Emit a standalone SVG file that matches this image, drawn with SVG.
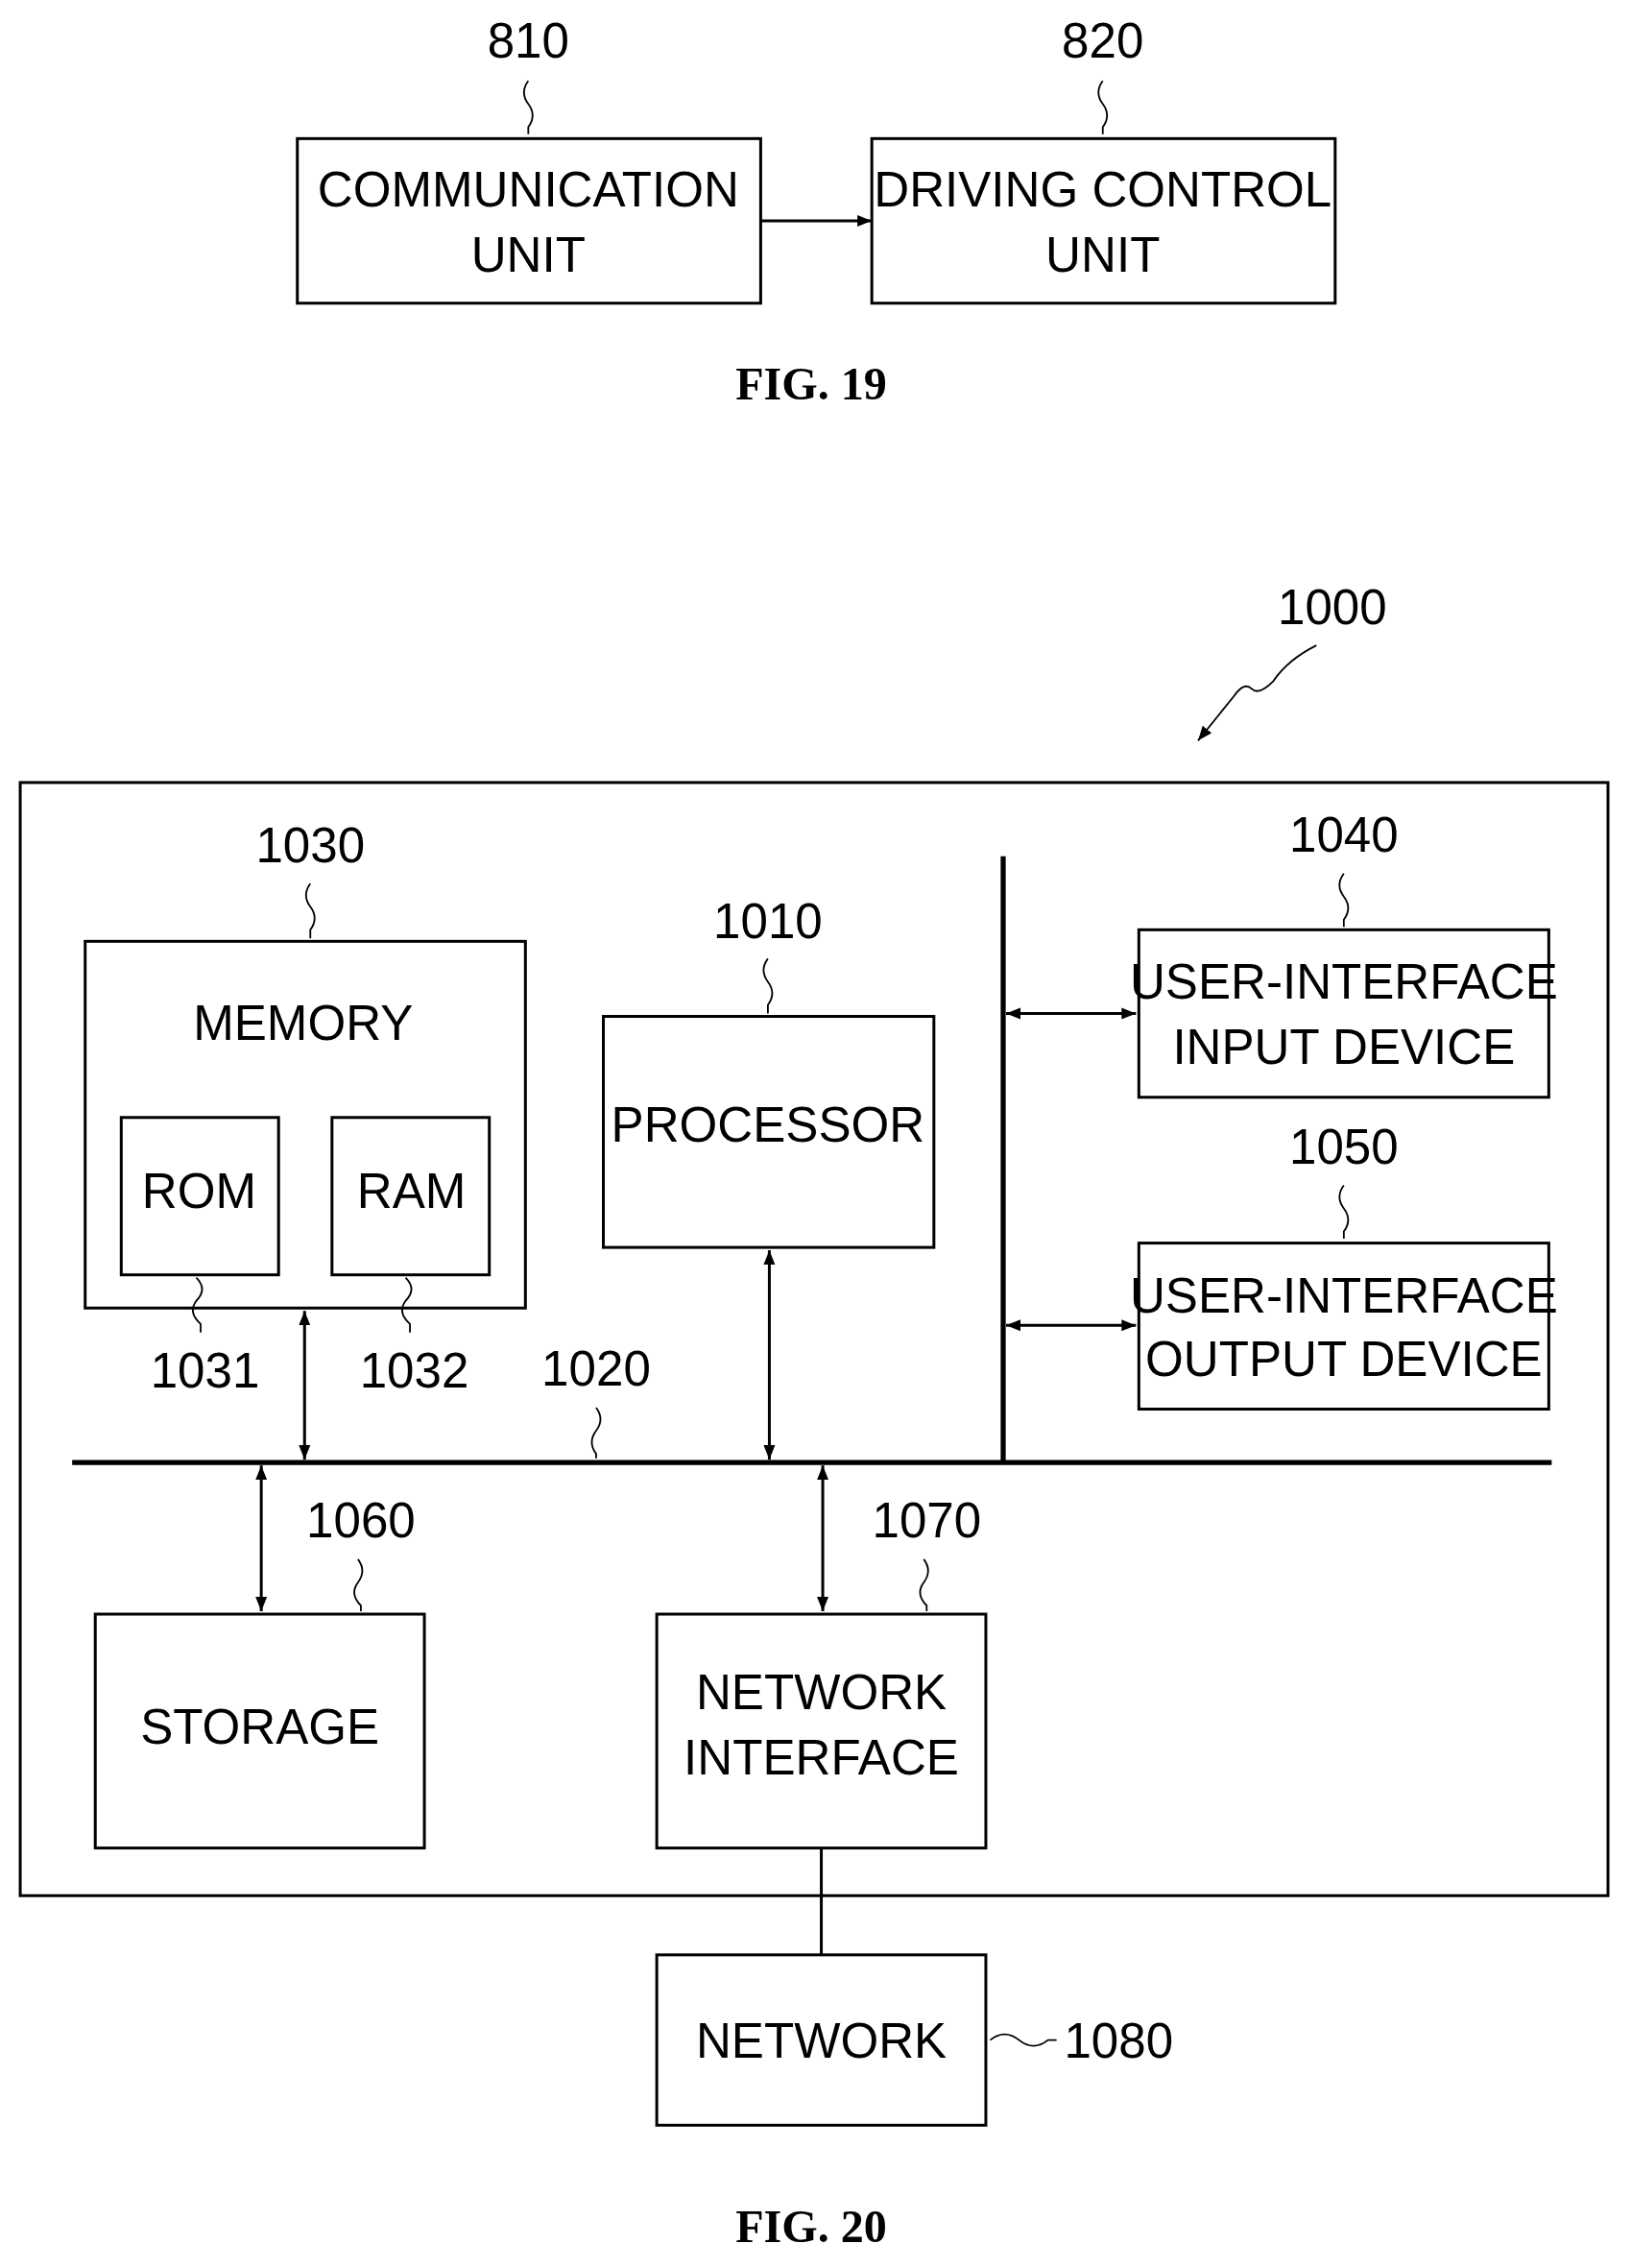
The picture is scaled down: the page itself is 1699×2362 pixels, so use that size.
<svg xmlns="http://www.w3.org/2000/svg" width="1699" height="2362" viewBox="0 0 1699 2362">
<defs>
<marker id="ah" viewBox="0 0 10 10" refX="10" refY="5" markerWidth="10" markerHeight="10" markerUnits="userSpaceOnUse" orient="auto-start-reverse"><path d="M0,1 L10,5 L0,9 z" fill="#000"/></marker>
<style>
.b{fill:#fff;stroke:#000;stroke-width:2}
.t{font-family:"Liberation Sans",Arial,sans-serif;font-size:34px;text-anchor:middle}
.n{font-family:"Liberation Sans",Arial,sans-serif;font-size:34px;text-anchor:middle}
.f{font-family:"Liberation Serif",serif;font-size:32px;font-weight:bold;text-anchor:middle}
.l{fill:none;stroke:#000;stroke-width:2}
.s{fill:none;stroke:#000;stroke-width:1.2}
</style>
</defs>
<rect width="1699" height="2362" fill="#fff"/>
<g transform="scale(1.5036)">
<g id="n810"><rect class="b" x="206" y="96" width="321" height="114"/><text class="t" x="366" y="143">COMMUNICATION</text><text class="t" x="366" y="188">UNIT</text><text class="n" x="366" y="40">810</text><path class="s" d="M366,56 q-6,8 0,16 q6,8 0,16 v5"/></g>
<g id="n820"><rect class="b" x="604" y="96" width="321" height="114"/><text class="t" x="764" y="143">DRIVING CONTROL</text><text class="t" x="764" y="188">UNIT</text><text class="n" x="764" y="40">820</text><path class="s" d="M764,56 q-6,8 0,16 q6,8 0,16 v5"/></g>
<text class="f" x="562" y="277">FIG. 19</text>
<g id="n1000"><rect class="b" x="14" y="542" width="1100" height="771"/><text class="n" x="923" y="432">1000</text><path class="s" d="M912,447 q-20,10 -30,25 q-10,10 -15,5 q-5,-5 -12,5 L830,513" marker-end="url(#ah)"/></g>
<g id="n1030"><rect class="b" x="59" y="652" width="305" height="254"/><text class="t" x="210" y="720">MEMORY</text><text class="n" x="215" y="597">1030</text><path class="s" d="M215,612 q-6,8 0,16 q6,8 0,16 v6"/></g>
<g id="n1031"><rect class="b" x="84" y="774" width="109" height="109"/><text class="t" x="138" y="837">ROM</text><text class="n" x="142" y="961">1031</text><path class="s" d="M136,885 q8,8 0,16 q-6,8 3,16 v6"/></g>
<g id="n1032"><rect class="b" x="230" y="774" width="109" height="109"/><text class="t" x="285" y="837">RAM</text><text class="n" x="287" y="961">1032</text><path class="s" d="M281,885 q8,8 0,16 q-6,8 3,16 v6"/></g>
<g id="n1010"><rect class="b" x="418" y="704" width="229" height="160"/><text class="t" x="532" y="791">PROCESSOR</text><text class="n" x="532" y="650">1010</text><path class="s" d="M532,664 q-6,8 0,16 q6,8 0,16 v6"/></g>
<g id="n1040"><rect class="b" x="789" y="644" width="284" height="116"/><text class="t" x="931" y="692">USER-INTERFACE</text><text class="t" x="931" y="737">INPUT DEVICE</text><text class="n" x="931" y="590">1040</text><path class="s" d="M931,605 q-6,8 0,16 q6,8 0,16 v5"/></g>
<g id="n1050"><rect class="b" x="789" y="861" width="284" height="115"/><text class="t" x="931" y="909">USER-INTERFACE</text><text class="t" x="931" y="953">OUTPUT DEVICE</text><text class="n" x="931" y="806">1050</text><path class="s" d="M931,821 q-6,8 0,16 q6,8 0,16 v5"/></g>
<g id="n1060"><rect class="b" x="66" y="1118" width="228" height="162"/><text class="t" x="180" y="1208">STORAGE</text><text class="n" x="250" y="1065">1060</text><path class="s" d="M248,1080 q6,8 0,16 q-6,8 2,16 v4"/></g>
<g id="n1070"><rect class="b" x="455" y="1118" width="228" height="162"/><text class="t" x="569" y="1184">NETWORK</text><text class="t" x="569" y="1229">INTERFACE</text><text class="n" x="642" y="1065">1070</text><path class="s" d="M640,1080 q6,8 0,16 q-6,8 2,16 v4"/></g>
<g id="n1080"><rect class="b" x="455" y="1354" width="228" height="118"/><text class="t" x="569" y="1425">NETWORK</text><text class="n" x="775" y="1425">1080</text><path class="s" d="M686,1413 q10,-8 20,0 q10,8 20,0 h6"/></g>
<g id="n1020"><text class="n" x="413" y="960">1020</text><path class="s" d="M413,975 q6,8 0,16 q-6,8 0,16 v3"/></g>
<g id="connectors">
<line class="l" x1="527" y1="153" x2="604" y2="153" marker-end="url(#ah)"/>
<line x1="695" y1="593" x2="695" y2="1013" stroke="#000" stroke-width="3.5"/>
<line x1="50" y1="1013" x2="1075" y2="1013" stroke="#000" stroke-width="3.5"/>
<line class="l" x1="697" y1="702" x2="787" y2="702" marker-start="url(#ah)" marker-end="url(#ah)"/>
<line class="l" x1="697" y1="918" x2="787" y2="918" marker-start="url(#ah)" marker-end="url(#ah)"/>
<line class="l" x1="211" y1="908" x2="211" y2="1011" marker-start="url(#ah)" marker-end="url(#ah)"/>
<line class="l" x1="533" y1="866" x2="533" y2="1011" marker-start="url(#ah)" marker-end="url(#ah)"/>
<line class="l" x1="181" y1="1015" x2="181" y2="1116" marker-start="url(#ah)" marker-end="url(#ah)"/>
<line class="l" x1="570" y1="1015" x2="570" y2="1116" marker-start="url(#ah)" marker-end="url(#ah)"/>
<line class="l" x1="569" y1="1280" x2="569" y2="1354"/>
</g>
<text class="f" x="562" y="1553">FIG. 20</text>
</g>
</svg>
